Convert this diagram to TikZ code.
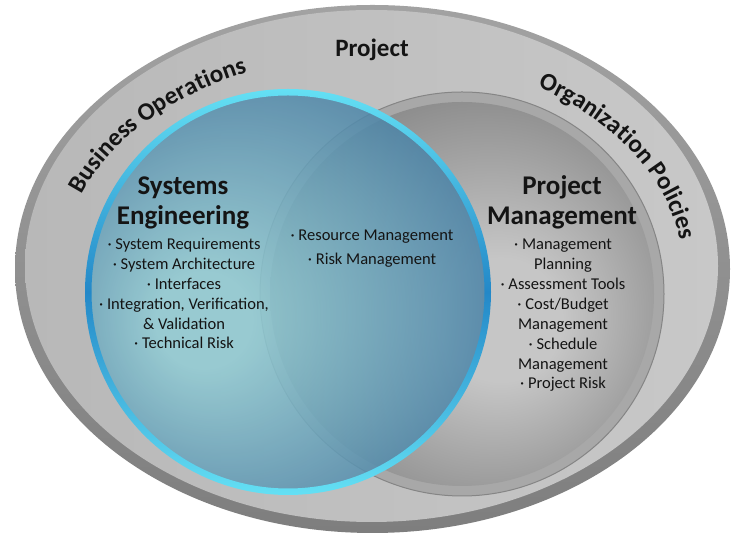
\documentclass[tikz,border=0pt]{standalone}
\usepackage{fontspec}
\setmainfont{Carlito}
\usetikzlibrary{positioning}
\usetikzlibrary{decorations.text}

\definecolor{rimtop}{HTML}{A2A2A2}
\definecolor{rimbot}{HTML}{7E7E7E}
\definecolor{ringgray}{HTML}{B8B8B8}
\definecolor{ringlight}{HTML}{C8C8C8}
\definecolor{pmrim}{HTML}{A8A8A8}
\definecolor{pmedge}{HTML}{858585}
\definecolor{pmlight}{HTML}{C6C6C6}
\definecolor{pmdark}{HTML}{878787}
\definecolor{seA}{HTML}{92CDD5}
\definecolor{seB}{HTML}{4A82A6}
\definecolor{ringblue}{HTML}{2388C8}
\definecolor{ringcyan}{HTML}{64E0F4}
\definecolor{inkdark}{HTML}{141414}

\pgfdeclareradialshading{seglow}{\pgfpoint{-12bp}{-4bp}}{color(0bp)=(seA); color(6bp)=(seA); color(30bp)=(seB); color(50bp)=(seB)}
\pgfdeclareradialshading{pmglow}{\pgfpoint{6bp}{-4bp}}{color(0bp)=(pmlight); color(8bp)=(pmlight); color(30bp)=(pmdark); color(50bp)=(pmdark)}

\begin{document}
\begin{tikzpicture}[x=1pt,y=1pt,
  title/.style={font=\bfseries\fontsize{27}{30}\selectfont, text=inkdark, align=center, inner sep=0pt},
  items/.style={font=\fontsize{16.5}{19.9}\selectfont, text=inkdark, align=center, inner sep=0pt},
  arctext/.style={decorate, decoration={text along path, text align=center, text color=inkdark,
    text={|\bfseries\fontsize{25}{25}\selectfont|#1}}}]

  \useasboundingbox (0,0) rectangle (734,537);
  \coordinate (o) at (372.5,268);
  \coordinate (se) at (288,245);
  \coordinate (pm) at (462,243);

  % outer project ring
  \shade[top color=rimtop, bottom color=rimbot] (o) ellipse[x radius=357.5pt, y radius=264pt];
  \shade[left color=ringgray, right color=ringlight] (371.5,271) ellipse[x radius=346.5pt, y radius=256pt];

  % project management
  \fill[pmrim, draw=pmedge, line width=1pt] (pm) circle[radius=202pt];
  \shade[shading=pmglow] (pm) circle[radius=192pt];

  % systems engineering
  \shade[shading=seglow, opacity=0.85] (se) circle[radius=200pt];
  \shade[even odd rule, top color=ringcyan, bottom color=ringcyan, middle color=ringblue]
    (se) circle[radius=203pt] (se) circle[radius=196.5pt];

  \node[font=\bfseries\fontsize{25}{25}\selectfont, text=inkdark, inner sep=0pt, anchor=base] (p) at (372,480) {Project};
  \path[arctext={Business Operations}] ([shift={(174.5:310pt and 215pt)}]o)
    arc[start angle=174.5, end angle=103, x radius=310pt, y radius=215pt];
  \path[arctext={Organization Policies}] ([shift={(63.5:310pt and 215pt)}]o)
    arc[start angle=63.5, end angle=0, x radius=310pt, y radius=215pt];

  \node[title, anchor=base] (a) at (183,312) {Systems\\Engineering};
  \node[items, anchor=base] (b) at (184,188) {· System Requirements\\· System Architecture\\· Interfaces\\· Integration, Verification,\\\& Validation\\· Technical Risk};
  \node[items, anchor=base] (c) at (372,272) {· Resource Management\\[5pt]· Risk Management};
  \node[title, anchor=base] (d) at (562,312) {Project\\Management};
  \node[items, anchor=base] (e) at (563,148) {· Management\\Planning\\· Assessment Tools\\· Cost/Budget\\Management\\· Schedule\\Management\\· Project Risk};
\end{tikzpicture}
\end{document}
